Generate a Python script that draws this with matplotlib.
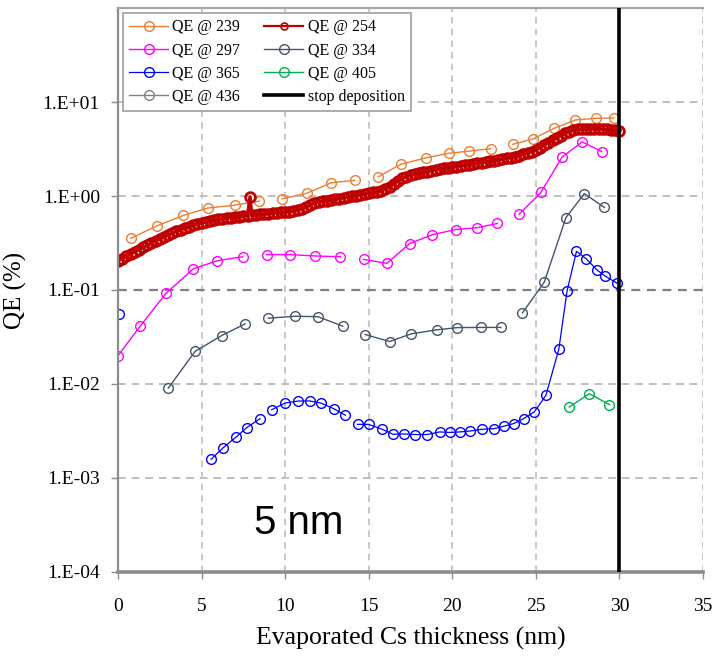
import numpy as np
import matplotlib
matplotlib.use("Agg")
import matplotlib.pyplot as plt
from matplotlib.lines import Line2D

nan = np.nan

# ---------------- data ----------------
x239 = [0.76, 2.35, 3.91, 5.39, 7.02, 8.46, nan, 9.82, 11.3, 12.74, 14.15, nan, 15.57, 16.93, 18.43,
        19.8, 21.02, 22.29, nan, 23.63, 24.83, 26.1, 27.37, 28.6, 29.66]
y239 = [0.354, 0.483, 0.621, 0.745, 0.80, 0.883, nan, 0.933, 1.07, 1.38, 1.47, nan, 1.60, 2.18, 2.55,
        2.85, 3.0, 3.19, nan, 3.55, 4.05, 5.26, 6.44, 6.71, 6.76]

x254 = [0.00, 0.25, 0.50, 0.75, 1.00, 1.25, 1.50, 1.75, 2.00, 2.25, 2.50, 2.75, 3.00, 3.25, 3.50, 3.75,
        4.00, 4.25, 4.50, 4.75, 5.00, 5.25, 5.50, 5.75, 6.00, 6.25, 6.50, 6.75, 7.00, 7.25, 7.50, 7.75,
        7.90, 8.00, 8.25, 8.50, 8.75, 9.00, 9.25, 9.50, 9.75, 10.00, 10.25, 10.50, 10.75, 11.00, 11.25,
        11.50, 11.75, 12.00, 12.25, 12.50, 12.75, 13.00, 13.25, 13.50, 13.75, 14.00, 14.25, 14.50, 14.75,
        15.00, 15.25, 15.50, 15.75, 16.00, 16.25, 16.50, 16.75, 17.00, 17.25, 17.50, 17.75, 18.00, 18.25,
        18.50, 18.75, 19.00, 19.25, 19.50, 19.75, 20.00, 20.25, 20.50, 20.75, 21.00, 21.25, 21.50, 21.75,
        22.00, 22.25, 22.50, 22.75, 23.00, 23.25, 23.50, 23.75, 24.00, 24.25, 24.50, 24.75, 25.00, 25.25,
        25.50, 25.75, 26.00, 26.25, 26.50, 26.75, 27.00, 27.25, 27.50, 27.75, 28.00, 28.25, 28.50, 28.75,
        29.00, 29.25, 29.50, 29.75, 30.00]
y254 = [0.205, 0.215, 0.228, 0.240, 0.255, 0.268, 0.284, 0.298, 0.315, 0.332, 0.350, 0.366, 0.385, 0.402,
        0.420, 0.437, 0.455, 0.472, 0.488, 0.503, 0.518, 0.530, 0.542, 0.553, 0.563, 0.572, 0.582, 0.590,
        0.598, 0.605, 0.612, 0.618, 0.980, 0.625, 0.630, 0.636, 0.642, 0.650, 0.656, 0.662, 0.668, 0.675,
        0.683, 0.692, 0.705, 0.725, 0.760, 0.800, 0.840, 0.865, 0.880, 0.895, 0.910, 0.925, 0.940, 0.955,
        0.972, 0.990, 1.010, 1.030, 1.050, 1.070, 1.090, 1.110, 1.140, 1.180, 1.250, 1.340, 1.450, 1.540,
        1.610, 1.660, 1.700, 1.740, 1.780, 1.820, 1.860, 1.900, 1.935, 1.970, 2.000, 2.030, 2.060, 2.095,
        2.130, 2.160, 2.195, 2.230, 2.265, 2.300, 2.340, 2.380, 2.425, 2.470, 2.515, 2.560, 2.620, 2.690,
        2.770, 2.860, 2.960, 3.100, 3.280, 3.480, 3.700, 3.920, 4.150, 4.400, 4.650, 4.850, 5.000, 5.100,
        5.170, 5.200, 5.210, 5.200, 5.180, 5.150, 5.100, 5.050, 5.000, 4.950]

x297 = [0.0, 1.32, 2.87, 4.51, 5.95, 7.47, nan, 8.9, 10.32, 11.8, 13.3, nan, 14.7, 16.09, 17.45, 18.8,
        20.2, 21.5, 22.7, nan, 24.0, 25.3, 26.57, 27.77, 28.94]
y297 = [0.020, 0.041, 0.092, 0.168, 0.205, 0.226, nan, 0.238, 0.238, 0.230, 0.226, nan, 0.212, 0.192,
        0.312, 0.387, 0.44, 0.46, 0.51, nan, 0.64, 1.09, 2.6, 3.76, 2.97]

x334 = [3.01, 4.61, 6.21, 7.6, nan, 9.0, 10.6, 11.96, 13.45, nan, 14.79, 16.25, 17.55, 19.08, 20.3,
        21.7, 22.9, nan, 24.2, 25.5, 26.8, 27.9, 29.1]
y334 = [0.00904, 0.0222, 0.0328, 0.0436, nan, 0.0501, 0.0526, 0.052, 0.0412, nan, 0.0336, 0.0283,
        0.0342, 0.0377, 0.0398, 0.040, 0.040, nan, 0.0572, 0.121, 0.59, 1.06, 0.755]

x365 = [0.08, nan, 5.57, 6.31, 7.07, 7.7, 8.5, nan, 9.2, 10.0, 10.74, 11.46, 12.14, 12.9, 13.6, nan,
        14.33, 14.99, 15.8, 16.45, 17.1, 17.78, 18.49, 19.24, 19.84, 20.44, 21.08, 21.8, 22.5, 23.07,
        23.67, 24.27, 24.9, 25.6, 26.37, 26.87, 27.43, 28.02, 28.66, 29.16, 29.86]
y365 = [0.0557, nan, 0.00158, 0.00211, 0.00273, 0.00343, 0.00428, nan, 0.00533, 0.00627, 0.00658,
        0.0066, 0.00627, 0.00547, 0.00465, nan, 0.00372, 0.00372, 0.0033, 0.00292, 0.00294, 0.0029,
        0.0029, 0.00309, 0.00305, 0.00309, 0.00316, 0.0033, 0.00335, 0.00355, 0.00379, 0.00428,
        0.00503, 0.00757, 0.0233, 0.0986, 0.258, 0.214, 0.163, 0.14, 0.118]

x405 = [27.0, 28.2, 29.4]
y405 = [0.00569, 0.00789, 0.00603]

x436 = []
y436 = []

stop_x = 30

xticks = [0, 5, 10, 15, 20, 25, 30, 35]
yticks = [1e-4, 1e-3, 1e-2, 1e-1, 1e0, 1e1]
ytick_labels = ["1.E-04", "1.E-03", "1.E-02", "1.E-01", "1.E+00", "1.E+01"]

# ---------------- figure ----------------
serif = ["Liberation Serif", "DejaVu Serif"]
plt.rcParams["font.family"] = serif

fig = plt.figure(figsize=(7.12, 6.57), dpi=100)
ax = fig.add_axes([0.1657, 0.1294, 0.8217, 0.8584])

ax.set_yscale("log")
ax.set_xlim(0, 35)
ax.set_ylim(1e-4, 1e2)

# grid
for xv in xticks[1:]:
    ax.axvline(xv, color="#BFBFBF", lw=1.2, ls=(0, (4, 3)), zorder=0)
for yv in yticks[1:]:
    if yv == 1e-1:
        ax.axhline(yv, color="#808080", lw=1.6, ls=(0, (4, 3)), zorder=0)
    else:
        ax.axhline(yv, color="#BFBFBF", lw=1.4, ls=(0, (4, 3)), zorder=0)

mk = dict(marker="o", markerfacecolor="none", markersize=7, markeredgewidth=1.0)

l239, = ax.plot(x239, y239, color="#ED7D31", lw=1.0, label="QE @ 239", **mk)
ax.plot(x254, y254, color="#C00000", lw=2.5, marker="o", markerfacecolor="none",
        markersize=7, markeredgewidth=2.0)
l254 = Line2D([], [], color="#C00000", lw=1.6, marker="o", markerfacecolor="none",
              markersize=5, markeredgewidth=1.2, label="QE @ 254")
l297, = ax.plot(x297, y297, color="#FF00FF", lw=1.0, label="QE @ 297", **mk)
l334, = ax.plot(x334, y334, color="#44546A", lw=1.0, label="QE @ 334", **mk)
l365, = ax.plot(x365, y365, color="#0000FF", lw=0.9, label="QE @ 365", **mk)
l405, = ax.plot(x405, y405, color="#00B050", lw=1.0, label="QE @ 405", **mk)
l436, = ax.plot(x436, y436, color="#808080", lw=1.0, label="QE @ 436", **mk)
lstop = ax.axvline(stop_x, color="black", lw=2.6, label="stop deposition", zorder=5)

# spines
ax.spines["left"].set_color("#8C8C8C")
ax.spines["left"].set_linewidth(1.6)
ax.spines["bottom"].set_color("#8C8C8C")
ax.spines["bottom"].set_linewidth(2.6)
ax.spines["top"].set_color("#A6A6A6")
ax.spines["top"].set_linewidth(1.6)
ax.spines["right"].set_visible(False)

ax.set_xticks(xticks)
ax.set_xticklabels([str(v) for v in xticks])
ax.set_yticks(yticks)
ax.set_yticklabels(ytick_labels)
ax.yaxis.set_minor_locator(matplotlib.ticker.NullLocator())
ax.tick_params(axis="x", direction="out", length=5, width=1, color="#8C8C8C",
               pad=14, labelsize=14)
ax.tick_params(axis="y", direction="out", length=5, width=1, color="#8C8C8C",
               pad=8, labelsize=14)

ax.set_xlabel("Evaporated Cs thickness (nm)", fontsize=18.5)
ax.set_ylabel("QE (%)", fontsize=18)
ax.xaxis.set_label_coords(0.5, -0.097)
ax.yaxis.set_label_coords(-0.155, 0.5)

handles = [l239, l297, l365, l436, l254, l334, l405, lstop]
leg = ax.legend(handles=handles, ncol=2, loc="upper left", bbox_to_anchor=(0.0085, 0.991),
                borderaxespad=0, fontsize=11.5, frameon=True, fancybox=False,
                edgecolor="#A6A6A6", framealpha=1, handlelength=2.4, handletextpad=0.3,
                columnspacing=1.5, labelspacing=0.45, borderpad=0.4)
leg.get_frame().set_linewidth(1.3)

ax.text(0.309, 0.087, "5 nm", transform=ax.transAxes, fontsize=29,
        family=["Liberation Sans", "DejaVu Sans"], ha="center", va="center")

fig.savefig("out.png", dpi=100)
